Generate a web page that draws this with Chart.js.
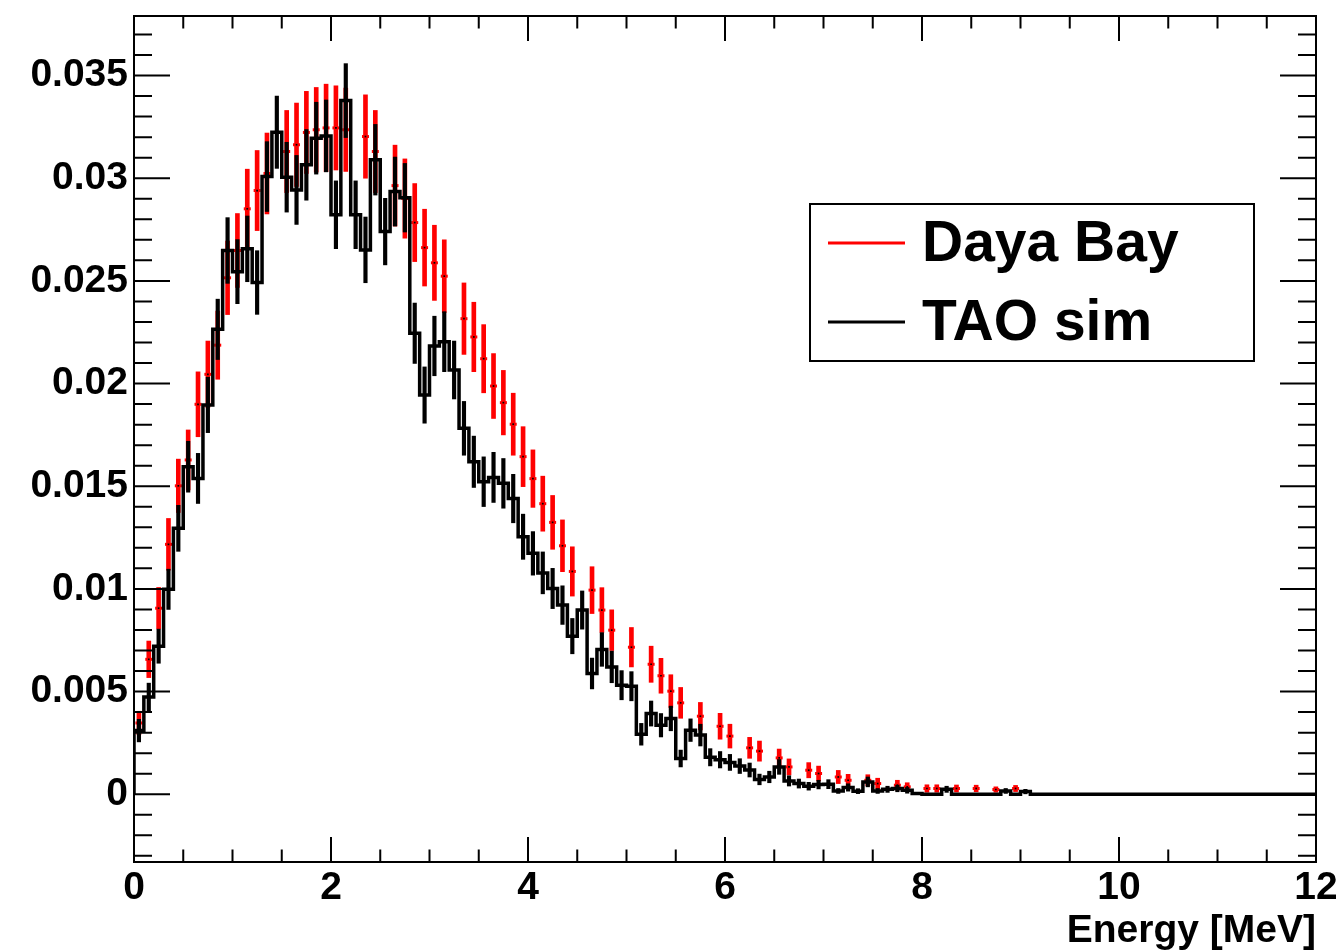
<!DOCTYPE html>
<html>
<head>
<meta charset="utf-8">
<script src="https://cdn.jsdelivr.net/npm/chart.js@4.4.1/dist/chart.umd.min.js"></script>
<style>
  html, body { margin: 0; padding: 0; background: #fff; }
  #wrap { width: 1336px; height: 951px; }
</style>
</head>
<body>
<div id="wrap"><canvas id="c" width="1336" height="951"></canvas></div>
<script>
// bins of 0.1 MeV from 0 to 12 MeV
var binWidth = 0.1;

// TAO sim histogram (black), one value per bin
var taoValues = [
  0.0031, 0.00474, 0.00721, 0.00998, 0.01295, 0.01595, 0.01538, 0.01896, 0.02264, 0.02648,
  0.02545, 0.02656, 0.02492, 0.03008, 0.03224, 0.03005, 0.02943, 0.03065, 0.03195, 0.03206,
  0.02822, 0.03378, 0.02822, 0.02651, 0.0309, 0.0274, 0.02935, 0.02905, 0.02245, 0.01944,
  0.02183, 0.02204, 0.02066, 0.01782, 0.01619, 0.01522, 0.01543, 0.01514, 0.0144, 0.01254,
  0.01173, 0.01078, 0.01002, 0.00921, 0.0077, 0.00897, 0.00588, 0.00705, 0.0062, 0.00531,
  0.00526, 0.00292, 0.00393, 0.00336, 0.00369, 0.00174, 0.00312, 0.00288, 0.0018, 0.00168,
  0.00155, 0.00137, 0.00118, 0.00072, 0.00084, 0.00133, 0.00065, 0.00052, 0.00039, 0.00047,
  0.00049, 0.00016, 0.00033, 0.00015, 0.0006, 0.00016, 0.00024, 0.00028, 0.00019, 0.00003,
  0, 0, 0.00024, 0, 0, 0, 0, 0, 0.00016, 0,
  0.00013, 0, 0, 0, 0, 0, 0, 0, 0, 0,
  0, 0, 0, 0, 0, 0, 0, 0, 0, 0,
  0, 0, 0, 0, 0, 0, 0, 0, 0, 0
];
var taoErrors = [
  0.00055, 0.00067, 0.00083, 0.00098, 0.00112, 0.00124, 0.00122, 0.00135, 0.00147, 0.0016,
  0.00156, 0.0016, 0.00155, 0.0017, 0.00176, 0.0017, 0.00168, 0.00172, 0.00175, 0.00175,
  0.00165, 0.0018, 0.00165, 0.0016, 0.00172, 0.00162, 0.00168, 0.00167, 0.00147, 0.00137,
  0.00145, 0.00146, 0.00141, 0.00131, 0.00125, 0.00121, 0.00122, 0.00121, 0.00118, 0.0011,
  0.00106, 0.00102, 0.00098, 0.00094, 0.00086, 0.00093, 0.00075, 0.00082, 0.00077, 0.00071,
  0.00071, 0.00053, 0.00061, 0.00057, 0.0006, 0.00041, 0.00055, 0.00053, 0.00042, 0.0004,
  0.00039, 0.00036, 0.00034, 0.00026, 0.00028, 0.00036, 0.00025, 0.00022, 0.00019, 0.00021,
  0.00022, 0.00012, 0.00018, 0.00012, 0.00024, 0.00012, 0.00015, 0.00016, 0.00014, 0.00005,
  0, 0, 0.00015, 0, 0, 0, 0, 0, 0.00012, 0,
  0.00011
];

// Daya Bay points (red), null = empty bin
var dybValues = [
  0.00347, 0.00657, 0.00906, 0.01217, 0.01502, 0.01628, 0.01899, 0.02045, 0.02187, 0.02515,
  0.02648, 0.02851, 0.0294, 0.03023, null, 0.0313, 0.03163, 0.03223, 0.03236, 0.03245,
  0.03245, 0.03236, null, 0.03203, 0.0313, null, 0.02964, 0.02901, 0.02784, 0.02662,
  0.02588, 0.02523, null, 0.02316, 0.02227, 0.02121, 0.01988, 0.01907, 0.01802, 0.01644,
  0.01537, 0.01415, 0.01324, 0.0121, 0.01085, null, 0.00994, 0.00897, 0.00799, null,
  0.00716, null, 0.00633, 0.00577, 0.00502, 0.00445, null, 0.0038, null, 0.00331,
  0.00283, null, 0.00226, 0.0021, null, 0.00177, 0.00133, null, 0.00117, 0.00101,
  null, 0.00084, 0.00068, null, 0.00068, 0.00052, null, 0.00044, 0.00036, null,
  0.00028, 0.00028, null, 0.00028, null, 0.00028, null, 0.00023, null, 0.00028
];
var dybErrors = [
  0.00057, 0.00089, 0.00101, 0.00126, 0.0013, 0.00146, 0.00158, 0.00162, 0.00166, 0.00179,
  0.0018, 0.00193, 0.00195, 0.00197, null, 0.002, 0.00203, 0.002, 0.00206, 0.00213,
  0.00205, 0.00203, null, 0.00203, 0.002, null, 0.00197, 0.00193, 0.0019, 0.00187,
  0.00183, 0.00177, null, 0.00174, 0.00169, 0.00166, 0.00158, 0.00157, 0.00151, 0.00146,
  0.0014, 0.00134, 0.00131, 0.00126, 0.0012, null, 0.00114, 0.00109, 0.00099, null,
  0.00096, null, 0.00088, 0.00085, 0.0008, 0.00075, null, 0.00067, null, 0.00063,
  0.00058, null, 0.00051, 0.00049, null, 0.00043, 0.00039, null, 0.00037, 0.00036,
  null, 0.00032, 0.00029, null, 0.00027, 0.00026, null, 0.00024, 0.0002, null,
  0.00018, 0.00018, null, 0.00017, null, 0.00016, null, 0.00013, null, 0.00015
];

var xTicks = [0, 2, 4, 6, 8, 10, 12];
var yTicks = [0, 0.005, 0.01, 0.015, 0.02, 0.025, 0.03, 0.035];
var yTickLabels = ['0', '0.005', '0.01', '0.015', '0.02', '0.025', '0.03', '0.035'];
var xMinorStep = 0.5;
var yMinorStep = 0.001;

function binCenter(i) { return (i + 0.5) * binWidth; }

// step outline of the histogram
var taoStep = [{x: 0, y: 0}];
taoValues.forEach(function(v, i) { taoStep.push({x: i * binWidth, y: v}); });
taoStep.push({x: taoValues.length * binWidth, y: taoValues[taoValues.length - 1]});

var taoBars = [];
taoValues.forEach(function(v, i) {
  if (taoErrors[i]) taoBars.push({x: binCenter(i), y: [v - taoErrors[i], v + taoErrors[i]]});
});

var dybPoints = [];
var dybBars = [];
dybValues.forEach(function(v, i) {
  if (v === null) return;
  dybPoints.push({x: binCenter(i), y: v});
  dybBars.push({x: binCenter(i), y: [v - dybErrors[i], v + dybErrors[i]]});
});

var FONT = "'Liberation Sans', Arial, Helvetica, sans-serif";

var rootFrame = {
  id: 'rootFrame',
  afterDatasetsDraw: function(chart) {
    var ctx = chart.ctx, a = chart.chartArea;
    var xs = chart.scales.x, ys = chart.scales.y;
    ctx.save();
    ctx.strokeStyle = '#000';
    ctx.lineWidth = 2;
    ctx.beginPath();
    var k, p, len;
    for (k = Math.ceil(ys.min / yMinorStep); k * yMinorStep <= ys.max; k++) {
      p = ys.getPixelForValue(k * yMinorStep);
      len = (k % 5 === 0) ? 36 : 18;
      ctx.moveTo(a.left, p); ctx.lineTo(a.left + len, p);
      ctx.moveTo(a.right, p); ctx.lineTo(a.right - len, p);
    }
    for (k = 0; k * xMinorStep <= xs.max; k++) {
      p = xs.getPixelForValue(k * xMinorStep);
      len = (k % 4 === 0) ? 25 : 12.5;
      ctx.moveTo(p, a.bottom); ctx.lineTo(p, a.bottom - len);
      ctx.moveTo(p, a.top); ctx.lineTo(p, a.top + len);
    }
    ctx.stroke();
    ctx.strokeRect(a.left, a.top, a.right - a.left, a.bottom - a.top);

    // legend box
    var lx = 810, ly = 204, lw = 444, lh = 157;
    ctx.fillStyle = '#fff';
    ctx.fillRect(lx, ly, lw, lh);
    ctx.strokeRect(lx, ly, lw, lh);
    var items = [
      {label: chart.data.datasets[4].label, color: '#ff0000', y: 243, base: 261},
      {label: chart.data.datasets[0].label, color: '#000', y: 322, base: 340}
    ];
    ctx.font = 'bold 57px ' + FONT;
    ctx.textBaseline = 'alphabetic';
    ctx.textAlign = 'left';
    items.forEach(function(it) {
      ctx.strokeStyle = it.color;
      ctx.lineWidth = 3;
      ctx.beginPath();
      ctx.moveTo(828, it.y); ctx.lineTo(905, it.y);
      ctx.stroke();
      ctx.fillStyle = '#000';
      ctx.fillText(it.label, 922, it.base);
    });
    ctx.restore();
  }
};

new Chart(document.getElementById('c'), {
  type: 'scatter',
  data: {
    datasets: [
      {type: 'line', label: 'TAO sim', data: taoStep, stepped: 'before', borderColor: '#000',
       borderWidth: 3.5, pointRadius: 0, fill: false, order: 0},
      {type: 'bar', label: 'TAO err', data: taoBars, backgroundColor: '#000',
       barThickness: 3.5, grouped: false, borderWidth: 0, order: 1},
      {type: 'scatter', label: 'dot', data: dybPoints, pointStyle: 'rect', pointRadius: 1.2,
       pointBackgroundColor: '#000', pointBorderWidth: 0, order: 2},
      {type: 'scatter', label: 'cap', data: dybPoints, pointStyle: 'line', pointRadius: 3.5,
       pointBorderColor: '#ff0000', pointBorderWidth: 3, order: 3},
      {type: 'bar', label: 'Daya Bay', data: dybBars, backgroundColor: '#ff0000',
       barThickness: 4, grouped: false, borderWidth: 0, order: 4}
    ]
  },
  options: {
    responsive: false,
    animation: false,
    devicePixelRatio: 1,
    events: [],
    layout: {padding: {top: 16, right: 20, left: 0, bottom: 0}},
    plugins: {legend: {display: false}, tooltip: {enabled: false}},
    scales: {
      x: {
        type: 'linear', position: 'bottom', min: 0, max: 12, offset: false, bounds: 'data',
        grid: {display: false, drawTicks: false}, border: {display: false},
        afterBuildTicks: function(s) { s.ticks = xTicks.map(function(v) { return {value: v}; }); },
        ticks: {color: '#000', padding: 3, maxRotation: 0, autoSkip: false,
          font: {family: FONT, weight: 'bold', size: 39, lineHeight: 1.2},
          callback: function(v) { return String(v); }},
        title: {display: true, text: 'Energy [MeV]', align: 'end', color: '#000', padding: 0,
          font: {family: FONT, weight: 'bold', size: 39, lineHeight: 1.0}},
        afterFit: function(s) { s.height = 89; s.paddingLeft = 0; s.paddingRight = 0; }
      },
      y: {
        type: 'linear', min: -0.0033, max: 0.0379, bounds: 'data',
        grid: {display: false, drawTicks: false}, border: {display: false},
        afterBuildTicks: function(s) { s.ticks = yTicks.map(function(v) { return {value: v}; }); },
        ticks: {color: '#000', padding: 6, autoSkip: false,
          font: {family: FONT, weight: 'bold', size: 39, lineHeight: 1.2},
          callback: function(v, i) { return yTickLabels[i]; }},
        afterFit: function(s) { s.width = 134; s.paddingTop = 0; s.paddingBottom = 0; }
      }
    }
  },
  plugins: [rootFrame]
});
</script>
</body>
</html>
